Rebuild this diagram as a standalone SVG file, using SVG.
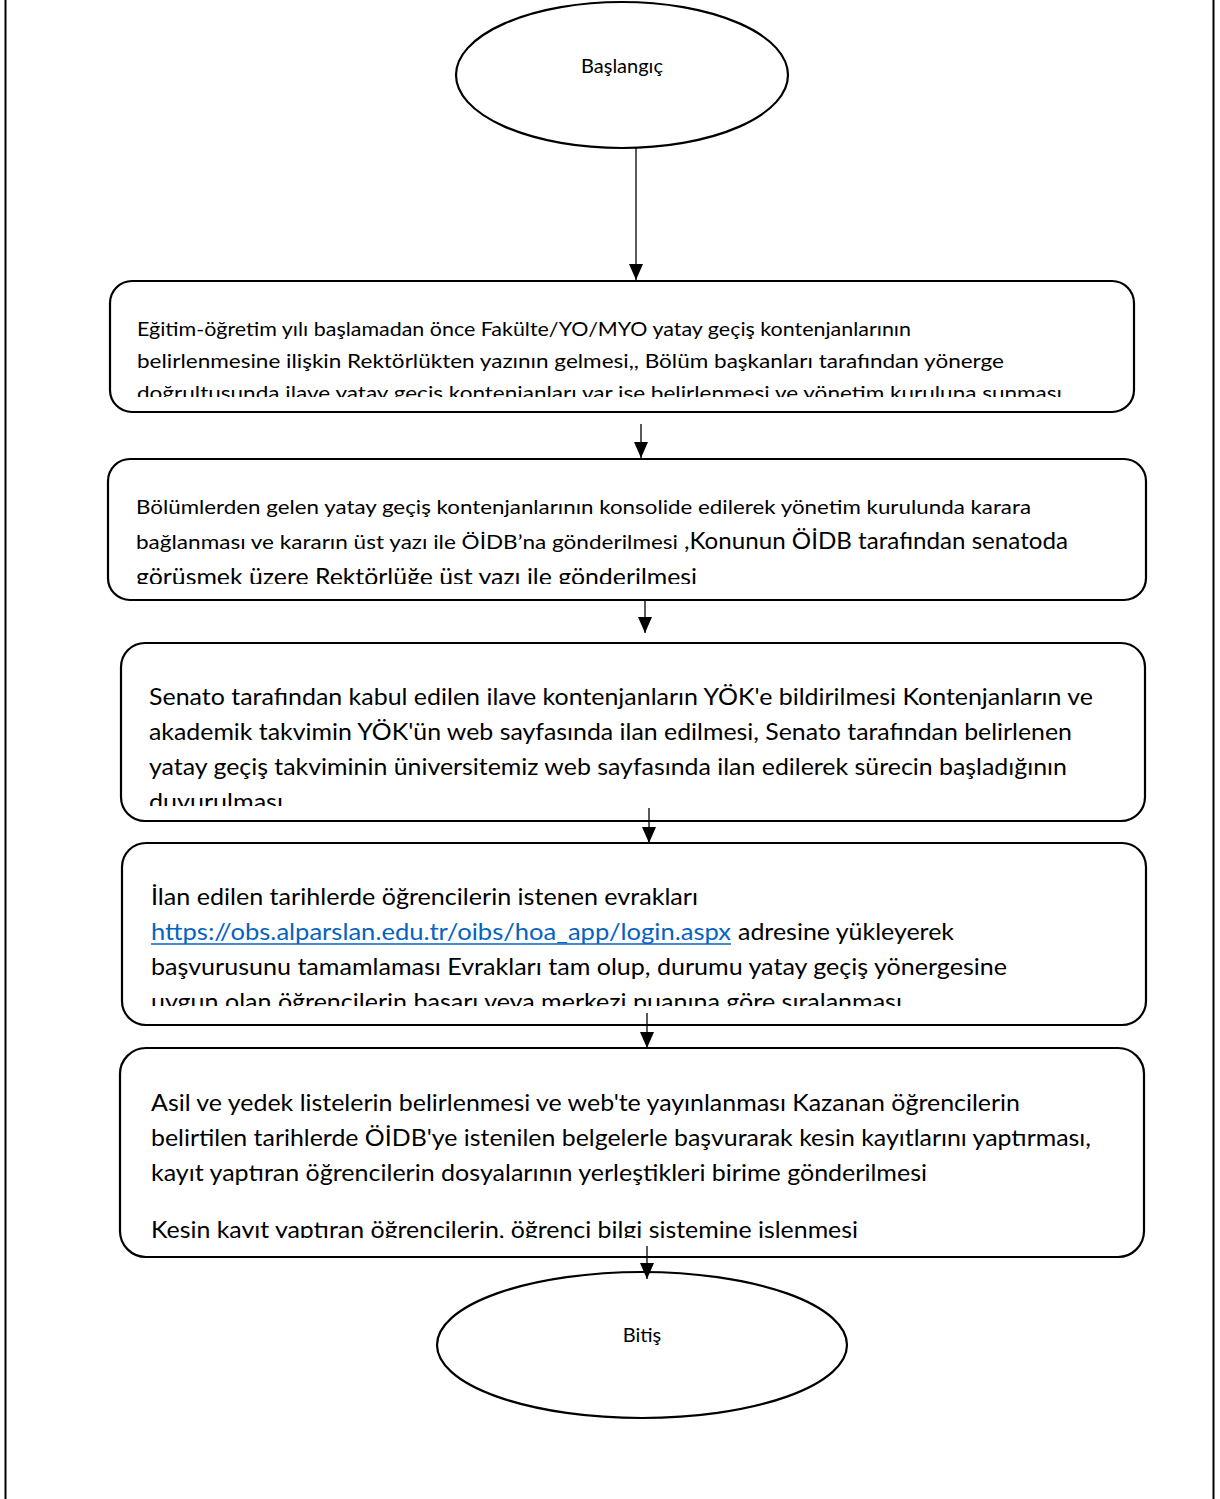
<svg xmlns="http://www.w3.org/2000/svg" width="1220" height="1499" viewBox="0 0 1220 1499">
<style>
.sh{fill:#fff;stroke:#000;stroke-width:2.2}
.t{font-family:Lato,"Open Sans","Liberation Sans",sans-serif;fill:#000}
.s20{font-size:20px}
.s23{font-size:23px}
.s24{font-size:24px}
.ln{stroke:#000;stroke-width:1.3;fill:none}
.lk{fill:#0563C1}
</style>
<defs>
<marker id="a2" markerUnits="userSpaceOnUse" markerWidth="14" markerHeight="16" viewBox="0 0 14 16" refX="7" refY="16" orient="0">
<path d="M0,0 L14,0 L7,16 Z" fill="#000"/>
</marker>
<clipPath id="c1"><rect x="110" y="281" width="1024" height="116"/></clipPath>
<clipPath id="c2"><rect x="108" y="459" width="1038" height="125"/></clipPath>
<clipPath id="c3"><rect x="121" y="643" width="1024" height="163"/></clipPath>
<clipPath id="c4"><rect x="122" y="843" width="1024" height="163"/></clipPath>
<clipPath id="c5"><rect x="120" y="1048" width="1024" height="190"/></clipPath>
</defs>
<rect width="1220" height="1499" fill="#fff"/>
<g id="frame">
<line x1="5.5" y1="0" x2="5.5" y2="1499" stroke="#000" stroke-width="2"/>
<line x1="1213.5" y1="0" x2="1213.5" y2="1499" stroke="#000" stroke-width="2"/>
</g>
<g id="start">
<ellipse class="sh" cx="622" cy="75" rx="166" ry="73"/>
<text class="t s20" x="622" y="73" text-anchor="middle">Başlangıç</text>
</g>
<g id="box1">
<rect class="sh" x="110" y="281" width="1024" height="131" rx="22"/>
<g clip-path="url(#c1)">
<text class="t s20" x="137" y="336" textLength="774" lengthAdjust="spacingAndGlyphs">Eğitim-öğretim yılı başlamadan önce Fakülte/YO/MYO yatay geçiş kontenjanlarının</text>
<text class="t s20" x="137" y="368" textLength="867" lengthAdjust="spacingAndGlyphs">belirlenmesine ilişkin Rektörlükten yazının gelmesi,, Bölüm başkanları tarafından yönerge</text>
<text class="t s20" x="137" y="400" textLength="925" lengthAdjust="spacingAndGlyphs">doğrultusunda ilave yatay geçiş kontenjanları var ise belirlenmesi ve yönetim kuruluna sunması</text>
</g>
</g>
<g id="box2">
<rect class="sh" x="108" y="459" width="1038" height="141" rx="22"/>
<g clip-path="url(#c2)">
<text class="t s20" x="136" y="514" textLength="895" lengthAdjust="spacingAndGlyphs">Bölümlerden gelen yatay geçiş kontenjanlarının konsolide edilerek yönetim kurulunda karara</text>
<text class="t s20" x="136" y="549" textLength="542" lengthAdjust="spacingAndGlyphs">bağlanması ve kararın üst yazı ile ÖİDB’na gönderilmesi</text>
<text class="t s23" x="684" y="549" textLength="384" lengthAdjust="spacingAndGlyphs">,Konunun ÖİDB tarafından senatoda</text>
<text class="t s23" x="136" y="585" textLength="561" lengthAdjust="spacingAndGlyphs">görüşmek üzere Rektörlüğe üst yazı ile gönderilmesi</text>
</g>
</g>
<g id="box3">
<rect class="sh" x="121" y="643" width="1024" height="178" rx="24"/>
<g clip-path="url(#c3)">
<text class="t s24" x="149" y="705" textLength="944" lengthAdjust="spacingAndGlyphs">Senato tarafından kabul edilen ilave kontenjanların YÖK'e bildirilmesi Kontenjanların ve</text>
<text class="t s24" x="149" y="740" textLength="923" lengthAdjust="spacingAndGlyphs">akademik takvimin YÖK'ün web sayfasında ilan edilmesi, Senato tarafından belirlenen</text>
<text class="t s24" x="149" y="775" textLength="918" lengthAdjust="spacingAndGlyphs">yatay geçiş takviminin üniversitemiz web sayfasında ilan edilerek sürecin başladığının</text>
<text class="t s24" x="149" y="810" textLength="134" lengthAdjust="spacingAndGlyphs">duyurulması</text>
</g>
</g>
<g id="box4">
<rect class="sh" x="122" y="843" width="1024" height="182" rx="24"/>
<g clip-path="url(#c4)">
<text class="t s24" x="151" y="905" textLength="547" lengthAdjust="spacingAndGlyphs">İlan edilen tarihlerde öğrencilerin istenen evrakları</text>
<text class="t s24 lk" x="151" y="940" textLength="580" lengthAdjust="spacingAndGlyphs">https://obs.alparslan.edu.tr/oibs/hoa_app/login.aspx</text>
<line x1="151" y1="944" x2="731" y2="944" stroke="#0563C1" stroke-width="1.5"/>
<text class="t s24" x="738" y="940" textLength="216" lengthAdjust="spacingAndGlyphs">adresine yükleyerek</text>
<text class="t s24" x="151" y="975" textLength="856" lengthAdjust="spacingAndGlyphs">başvurusunu tamamlaması Evrakları tam olup, durumu yatay geçiş yönergesine</text>
<text class="t s24" x="151" y="1010" textLength="751" lengthAdjust="spacingAndGlyphs">uygun olan öğrencilerin başarı veya merkezi puanına göre sıralanması</text>
</g>
</g>
<g id="box5">
<rect class="sh" x="120" y="1048" width="1024" height="209" rx="26"/>
<g clip-path="url(#c5)">
<text class="t s24" x="151" y="1111" textLength="869" lengthAdjust="spacingAndGlyphs">Asil ve yedek listelerin belirlenmesi ve web'te yayınlanması Kazanan öğrencilerin</text>
<text class="t s24" x="151" y="1146" textLength="940" lengthAdjust="spacingAndGlyphs">belirtilen tarihlerde ÖİDB'ye istenilen belgelerle başvurarak kesin kayıtlarını yaptırması,</text>
<text class="t s24" x="151" y="1181" textLength="776" lengthAdjust="spacingAndGlyphs">kayıt yaptıran öğrencilerin dosyalarının yerleştikleri birime gönderilmesi</text>
<text class="t s24" x="151" y="1238" textLength="707" lengthAdjust="spacingAndGlyphs">Kesin kayıt yaptıran öğrencilerin, öğrenci bilgi sistemine işlenmesi</text>
</g>
</g>
<g id="end">
<ellipse class="sh" cx="642" cy="1345" rx="205" ry="73"/>
<text class="t s20" x="642" y="1342" text-anchor="middle">Bitiş</text>
</g>
<g id="connectors">
<line class="ln" x1="636" y1="148" x2="636" y2="280" marker-end="url(#a2)"/>
<line class="ln" x1="641" y1="424" x2="641" y2="458" marker-end="url(#a2)"/>
<line class="ln" x1="645" y1="600" x2="645" y2="633" marker-end="url(#a2)"/>
<line class="ln" x1="649" y1="808" x2="649" y2="843" marker-end="url(#a2)"/>
<line class="ln" x1="647" y1="1013" x2="647" y2="1048" marker-end="url(#a2)"/>
<line class="ln" x1="647" y1="1246" x2="647" y2="1279" marker-end="url(#a2)"/>
</g>
</svg>
